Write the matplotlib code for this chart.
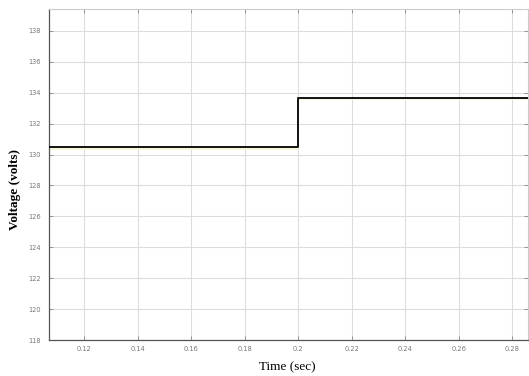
import matplotlib.pyplot as plt

# step response
time_s = [0.1068, 0.2, 0.2859]
voltage = [130.47, 133.68, 133.68]

x_ticks = [0.12, 0.14, 0.16, 0.18, 0.2, 0.22, 0.24, 0.26, 0.28]
x_labels = ['0.12', '0.14', '0.16', '0.18', '0.2', '0.22', '0.24', '0.26', '0.28']
y_ticks = [118, 120, 122, 124, 126, 128, 130, 132, 134, 136, 138]

fig = plt.figure(figsize=(5.29, 3.76), dpi=100)
ax = fig.add_axes([49 / 529, 1 - 340 / 376, 479 / 529, 331 / 376])

# faint yellow trace sitting just under the black one
ax.plot(time_s, [v - 0.1 for v in voltage], drawstyle='steps-post',
        color='#f8f6d8', linewidth=1.4, zorder=2)
ax.plot(time_s, voltage, drawstyle='steps-post', color='black', linewidth=1.3, zorder=3)

ax.set_xlim(0.1068, 0.2859)
ax.set_ylim(118, 139.42)
ax.set_xticks(x_ticks)
ax.set_xticklabels(x_labels)
ax.set_yticks(y_ticks)

ax.grid(True, color='#dcdcdc', linewidth=0.8)
ax.set_axisbelow(True)
ax.tick_params(direction='in', length=3, width=0.6, colors='#888888',
               labelsize=4.8, labelcolor='#777777', top=True, right=True)
ax.tick_params(axis='y', pad=6)
ax.tick_params(axis='x', pad=4)

for side in ['left', 'bottom']:
    ax.spines[side].set_color('#555555')
    ax.spines[side].set_linewidth(0.9)
for side in ['top', 'right']:
    ax.spines[side].set_color('#cccccc')
    ax.spines[side].set_linewidth(0.8)

fig.text(287 / 529, 1 - 367 / 376, 'Time (sec)', ha='center', va='center',
         family='Liberation Serif', fontsize=9.5)
fig.text(15 / 529, 1 - 190 / 376, 'Voltage (volts)', ha='center', va='center',
         rotation=90, family='Liberation Serif', fontsize=9.5, fontweight='bold')

fig.savefig('out.png', dpi=100)
